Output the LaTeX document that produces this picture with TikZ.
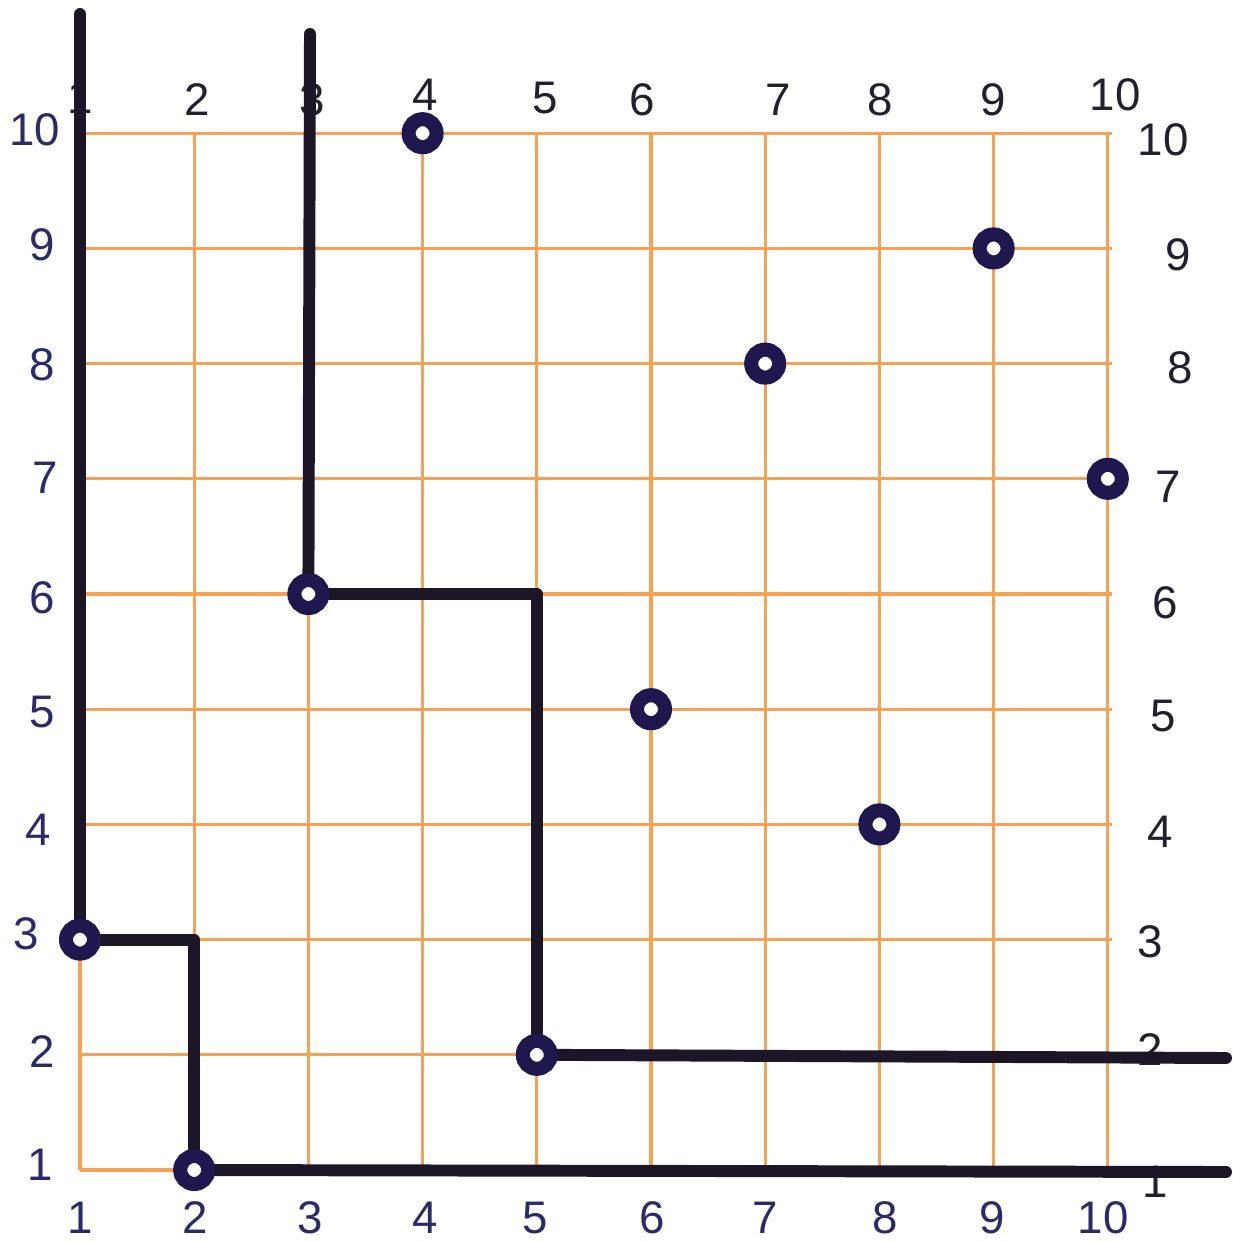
\documentclass[tikz,border=0pt]{standalone}
\usepackage{fontspec}
\setmainfont{Liberation Sans}
\begin{document}
\begin{tikzpicture}[x=0.02cm,y=-0.02cm,
  gridline/.style={draw=gridorange,line width=1.8pt},
  pen/.style={draw=penblack,line width=6.8pt,line cap=round,line join=round},
  ring/.style={circle,draw=ringblue,line width=8pt,minimum size=28*0.02cm,inner sep=0pt,fill=white},
  lblue/.style={font=\fontsize{26}{26}\selectfont,text=labelblue},
  lblack/.style={font=\fontsize{26}{26}\selectfont,text=labelblack}]
\definecolor{gridorange}{RGB}{246,162,85}
\definecolor{penblack}{RGB}{28,22,38}
\definecolor{ringblue}{RGB}{30,24,78}
\definecolor{labelblue}{RGB}{45,42,105}
\definecolor{labelblack}{RGB}{35,32,45}
\useasboundingbox[fill=white] (0,0) rectangle (1232,1242);
% grid
\foreach \i in {1,...,10}{
  \draw[gridline] ({80+(\i-1)*114.2},133) -- ({80+(\i-1)*114.2},1170);
  \draw[gridline] (80,{1170-(\i-1)*115.2}) -- (1112,{1170-(\i-1)*115.2});
}
% labels left (blue) and bottom (blue)
\foreach \t/\xx/\yy in {10/35/130,9/42/245,8/42/365,7/45/478,6/42/598,5/42/712,4/38/830,3/26/934,2/42/1052,1/40/1165}
  \node[lblue] (l\t) at (\xx,\yy) {\t};
\foreach \t/\xx in {1/80,2/195,3/310,4/425,5/535,6/652,7/765,8/885,9/992,10/1103}
  \node[lblue] (b\t) at (\xx,1218) {\t};
% labels top and right (black)
\foreach \t/\xx/\yy in {1/80/98,2/197/100,3/312/100,4/425/95,5/545/98,6/642/100,7/778/100,8/880/100,9/993/100,10/1115/95}
  \node[lblack] (t\t) at (\xx,\yy) {\t};
\foreach \t/\xx/\yy in {10/1163/140,9/1178/255,8/1180/368,7/1168/487,6/1165/603,5/1163/716,4/1160/832,3/1150/942,2/1150/1050,1/1155/1182}
  \node[lblack] (r\t) at (\xx,\yy) {\t};
% free ends
\coordinate (top1) at (80,14);
\coordinate (top3) at (310,34);
\coordinate (end2) at (1226,1058);
\coordinate (end1) at (1226,1172);
% points
\foreach \a/\b in {4/10,9/9,7/8,10/7,3/6,6/5,8/4,1/3,5/2,2/1}
  \coordinate (q\a-\b) at ({80+(\a-1)*114.2},{1170-(\b-1)*115.2});
% pen lines
\draw[pen] (top1) -- (q1-3);
\draw[pen] (top3) -- (q3-6);
\draw[pen] (q1-3) -| (q2-1);
\draw[pen] (q3-6) -| (q5-2);
\draw[pen] (q5-2) -- (end2);
\draw[pen] (q2-1) -- (end1);
% rings
\foreach \a/\b in {4/10,9/9,7/8,10/7,3/6,6/5,8/4,1/3,5/2,2/1}
  \node[ring] (c\a-\b) at (q\a-\b) {};
\end{tikzpicture}
\end{document}
